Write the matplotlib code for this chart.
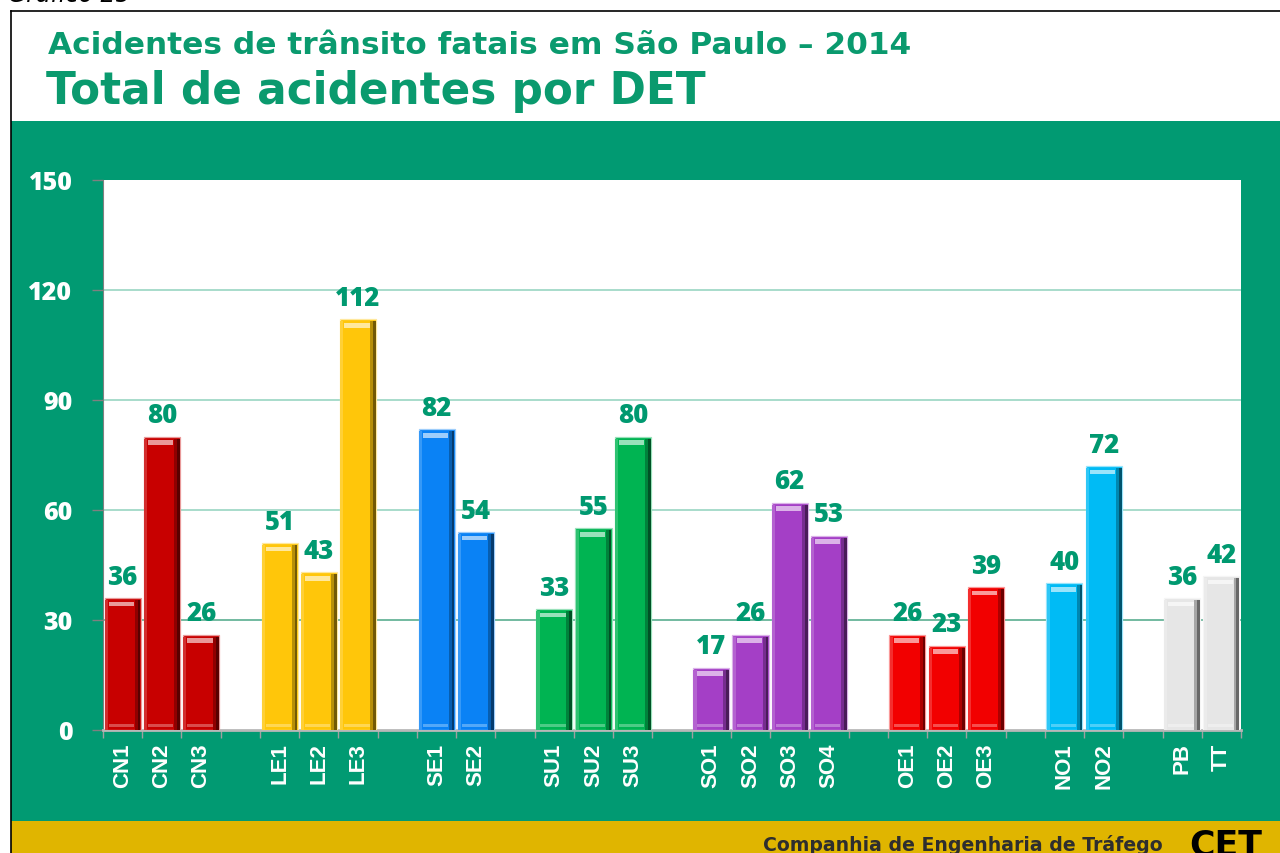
import numpy as np
import matplotlib.pyplot as plt
from matplotlib.patches import Rectangle
from matplotlib.colors import to_rgb

# dados por grupo (DET)
grupos = ['CN', 'LE', 'SE', 'SU', 'SO', 'OE', 'NO', 'PB/TT']
nomes = [['CN1', 'CN2', 'CN3'],
         ['LE1', 'LE2', 'LE3'],
         ['SE1', 'SE2'],
         ['SU1', 'SU2', 'SU3'],
         ['SO1', 'SO2', 'SO3', 'SO4'],
         ['OE1', 'OE2', 'OE3'],
         ['NO1', 'NO2'],
         ['PB', 'TT']]
valores = [[36, 80, 26],
           [51, 43, 112],
           [82, 54],
           [33, 55, 80],
           [17, 26, 62, 53],
           [26, 23, 39],
           [40, 72],
           [36, 42]]
cores = ['#C80000', '#FFC60A', '#0A82F5', '#00B452', '#A43FC6', '#F20000', '#00BBF5', '#E6E6E6']
yticks = [0, 30, 60, 90, 120, 150]

VERDE = '#019A72'
AMARELO = '#E0B500'

# monta posicoes com uma categoria vazia entre os grupos
xs, vals, cs, labels = [], [], [], []
pos = 0
for g in range(len(grupos)):
    for n, v in zip(nomes[g], valores[g]):
        xs.append(pos); vals.append(v); cs.append(cores[g]); labels.append(n)
        pos += 1
    if g < len(grupos) - 1:
        pos += 1
nslots = pos
xs = np.array(xs); vals = np.array(vals)

def escurecer(c, f):
    r, g, b = to_rgb(c)
    return (r * f, g * f, b * f)

def clarear(c, f):
    r, g, b = to_rgb(c)
    return (r + (1 - r) * f, g + (1 - g) * f, b + (1 - b) * f)

fig = plt.figure(figsize=(12.8, 8.54), dpi=100, facecolor='white')
W, H = 1280, 854

def fr(x0, y0, x1, y1, **kw):
    # retangulo em pixels (origem no topo)
    fig.add_artist(Rectangle((x0 / W, 1 - y1 / H), (x1 - x0) / W, (y1 - y0) / H,
                             transform=fig.transFigure, **kw))

fr(11, 122, 1280, 822, facecolor=VERDE, edgecolor='none', zorder=-5)
fr(11, 822, 1280, 854, facecolor=AMARELO, edgecolor='none', zorder=-5)
fig.add_artist(plt.Line2D([11 / W, 11 / W], [0, 1 - 12 / H], color='black', lw=1.2, transform=fig.transFigure))
fig.add_artist(plt.Line2D([11 / W, 1], [1 - 12 / H, 1 - 12 / H], color='black', lw=1.2, transform=fig.transFigure))

fig.text(8 / W, 1 - 1.5 / H, 'Gráfico 25', fontsize=17, style='italic', family='DejaVu Sans',
         color='black', va='baseline')
fig.text(48 / W, 1 - 54 / H, 'Acidentes de trânsito fatais em São Paulo – 2014', fontsize=22.5,
         fontweight='bold', family='DejaVu Sans', color='#0A9A6E', va='baseline')
fig.text(46 / W, 1 - 104 / H, 'Total de acidentes por DET', fontsize=31.5,
         fontweight='bold', family='DejaVu Sans', color='#0A9A6E', va='baseline')
fig.text(1163 / W, 1 - 851 / H, 'Companhia de Engenharia de Tráfego', fontsize=13.6,
         fontweight='bold', family='DejaVu Sans', color='#2E2E2E', ha='right', va='baseline')
fig.text(1189 / W, 1 - 856 / H, 'CET', fontsize=25, fontweight='bold', family='DejaVu Sans',
         color='black', va='baseline')

ax = fig.add_axes([103 / W, 1 - 731 / H, (1241 - 103) / W, (731 - 181) / H])
ax.set_facecolor('white')

larg = 0.92
n = len(vals)
# corpo da barra
ax.bar(xs, vals, width=larg, color=cs, edgecolor=[clarear(c, 0.6) for c in cs], linewidth=0.9, zorder=3)
# sombra a direita (dois tons) e faixa clara a esquerda: efeito chanfrado
ax.bar(xs + larg / 2 - 0.11, vals - 0.5, width=0.08, color=[escurecer(c, 0.72) for c in cs],
       edgecolor='none', zorder=4)
ax.bar(xs + larg / 2 - 0.04, vals - 0.5, width=0.07, color=[escurecer(c, 0.45) for c in cs],
       edgecolor='none', zorder=4)
ax.bar(xs - larg / 2 + 0.045, vals - 0.5, width=0.08, color=[clarear(c, 0.18) for c in cs],
       edgecolor='none', zorder=4)
# brilho no topo e na base
ax.bar(xs - 0.03, np.full(n, 1.3), bottom=vals - 2.3, width=larg * 0.7,
       color=[clarear(c, 0.6) for c in cs], edgecolor='none', zorder=5)
ax.bar(xs - 0.03, np.full(n, 0.9), bottom=np.full(n, 0.7), width=larg * 0.7,
       color=[clarear(c, 0.3) for c in cs], edgecolor='none', zorder=5)

for x, v in zip(xs, vals):
    ax.annotate(str(v), (x, v), xytext=(0, 6), textcoords='offset points', ha='center', va='bottom',
                fontsize=18.5, fontweight=800, family='Open Sans', color='#009970', zorder=6)

ax.set_xlim(-0.5, nslots - 0.5)
ax.set_ylim(0, 150)
ax.set_yticks(yticks)
for yv in yticks[1:-1]:
    ax.axhline(yv, color='#5aae90' if yv == 30 else '#9ad5c2', lw=1.2, zorder=1)

ax.set_xticks(xs)
ax.set_xticklabels(labels, rotation=90, fontsize=16, fontweight='bold', family='Liberation Sans',
                   color='white')
ax.set_xticks(np.arange(-0.5, nslots, 1), minor=True)
ax.tick_params(axis='x', which='major', length=0, pad=9)
ax.tick_params(axis='x', which='minor', length=6, color='#a0a0a0', width=1)
ax.tick_params(axis='y', length=8, color='#808080', width=1, pad=14)
for t in ax.get_yticklabels():
    t.set_fontsize(18)
    t.set_fontweight(800)
    t.set_family('Open Sans')
    t.set_color('white')

for s in ['top', 'right']:
    ax.spines[s].set_visible(False)
ax.spines['left'].set_color('#808080')
ax.spines['bottom'].set_color('#b8b8b8')
ax.spines['bottom'].set_linewidth(2)

fig.savefig('out.png', dpi=100, facecolor='white')
